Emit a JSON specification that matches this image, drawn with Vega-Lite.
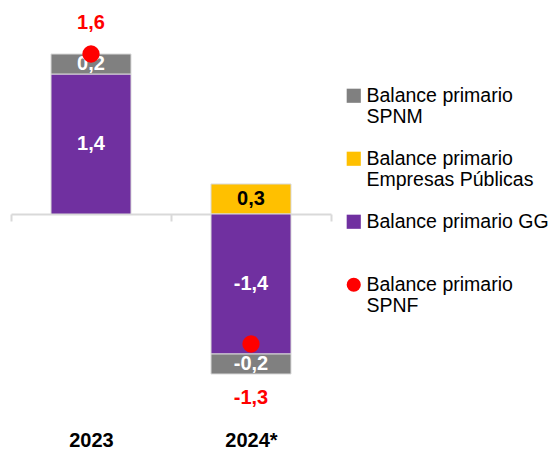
{
  "$schema": "https://vega.github.io/schema/vega-lite/v6.json",
  "width": 320,
  "height": 420,
  "autosize": {"type": "none"},
  "padding": {"left": 11, "top": 0, "right": 220, "bottom": 35},
  "background": "white",
  "config": {
    "view": {"stroke": null},
    "locale": {"number": {"decimal": ",", "thousands": ".", "grouping": [3], "currency": ["", ""], "minus": "-"}},
    "font": "Liberation Sans"
  },
  "data": {
    "values": [
      {"year": "2023", "serie": "Balance primario GG", "v": 1.4},
      {"year": "2023", "serie": "Balance primario SPNM", "v": 0.2},
      {"year": "2024*", "serie": "Balance primario Empresas Públicas", "v": 0.3},
      {"year": "2024*", "serie": "Balance primario GG", "v": -1.4},
      {"year": "2024*", "serie": "Balance primario SPNM", "v": -0.2},
      {"year": "2023", "serie": "Balance primario SPNF", "v": 1.6},
      {"year": "2024*", "serie": "Balance primario SPNF", "v": -1.3}
    ]
  },
  "encoding": {
    "x": {
      "field": "year", "type": "nominal",
      "scale": {"paddingInner": 0, "paddingOuter": 0},
      "axis": {
        "title": null, "labelAngle": 0, "offset": -206,
        "domainColor": "#d9d9d9", "domainWidth": 2,
        "tickColor": "#d9d9d9", "tickWidth": 2, "tickSize": 7,
        "tickBand": "extent",
        "labelFont": "Liberation Sans", "labelFontSize": 20, "labelFontWeight": "bold",
        "labelColor": "black", "labelPadding": 209
      }
    }
  },
  "layer": [
    {
      "transform": [{"filter": "datum.serie != 'Balance primario SPNF'"}],
      "mark": {"type": "bar", "stroke": "#d9d9d9", "strokeWidth": 1, "width": {"band": 0.5}},
      "encoding": {
        "y": {"field": "v", "type": "quantitative", "stack": "zero",
              "scale": {"domain": [-2.06, 2.14], "nice": false, "zero": false}, "axis": null},
        "order": {"field": "serie", "sort": "ascending"},
        "color": {
          "field": "serie", "type": "nominal",
          "scale": {
            "domain": ["Balance primario SPNM", "Balance primario Empresas Públicas", "Balance primario GG", "Balance primario SPNF"],
            "range": ["#808080", "#FFC000", "#7030A0", "#FF0000"]
          },
          "legend": {
            "title": null, "orient": "none", "legendX": 333, "legendY": 86,
            "padding": 0, "symbolSize": 200, "symbolStrokeWidth": 0,
            "labelFont": "Liberation Sans", "labelFontSize": 19.5, "labelColor": "black",
            "labelLimit": 300, "labelOffset": 3, "rowPadding": 21,
            "labelExpr": "datum.label == 'Balance primario GG' ? ['Balance primario GG', ' '] : ['Balance primario', replace(datum.label, 'Balance primario ', '')]",
            "encode": {
              "labels": {"update": {"lineHeight": {"value": 27}, "baseline": {"value": "top"}, "dy": {"value": -11}}}
            }
          }
        }
      }
    },
    {
      "transform": [{"filter": "datum.serie != 'Balance primario SPNF'"}],
      "mark": {"type": "text", "fontSize": 20, "fontWeight": "bold", "font": "Liberation Sans", "baseline": "middle"},
      "encoding": {
        "y": {"field": "v", "type": "quantitative", "stack": "zero", "bandPosition": 0.5},
        "order": {"field": "serie", "sort": "ascending"},
        "text": {"field": "v", "type": "quantitative", "format": ".1f"},
        "color": {"condition": {"test": "datum.serie == 'Balance primario Empresas Públicas'", "value": "black"}, "value": "white"}
      }
    },
    {
      "transform": [{"filter": "datum.serie == 'Balance primario SPNF'"}],
      "mark": {"type": "point", "filled": true, "size": 300, "opacity": 1},
      "encoding": {
        "y": {"field": "v", "type": "quantitative"},
        "color": {"field": "serie", "type": "nominal"},
        "shape": {
          "field": "serie", "type": "nominal",
          "scale": {
            "domain": ["Balance primario SPNM", "Balance primario Empresas Públicas", "Balance primario GG", "Balance primario SPNF"],
            "range": ["square", "square", "square", "circle"]
          }
        }
      }
    },
    {
      "transform": [{"filter": "datum.serie == 'Balance primario SPNF' && datum.v > 0"}],
      "mark": {"type": "text", "fontSize": 20, "fontWeight": "bold", "font": "Liberation Sans", "color": "#FF0000", "baseline": "middle", "dy": -31},
      "encoding": {
        "y": {"field": "v", "type": "quantitative"},
        "text": {"field": "v", "type": "quantitative", "format": ".1f"}
      }
    },
    {
      "transform": [{"filter": "datum.serie == 'Balance primario SPNF' && datum.v < 0"}],
      "mark": {"type": "text", "fontSize": 20, "fontWeight": "bold", "font": "Liberation Sans", "color": "#FF0000", "baseline": "middle", "dy": 54},
      "encoding": {
        "y": {"field": "v", "type": "quantitative"},
        "text": {"field": "v", "type": "quantitative", "format": ".1f"}
      }
    }
  ]
}
